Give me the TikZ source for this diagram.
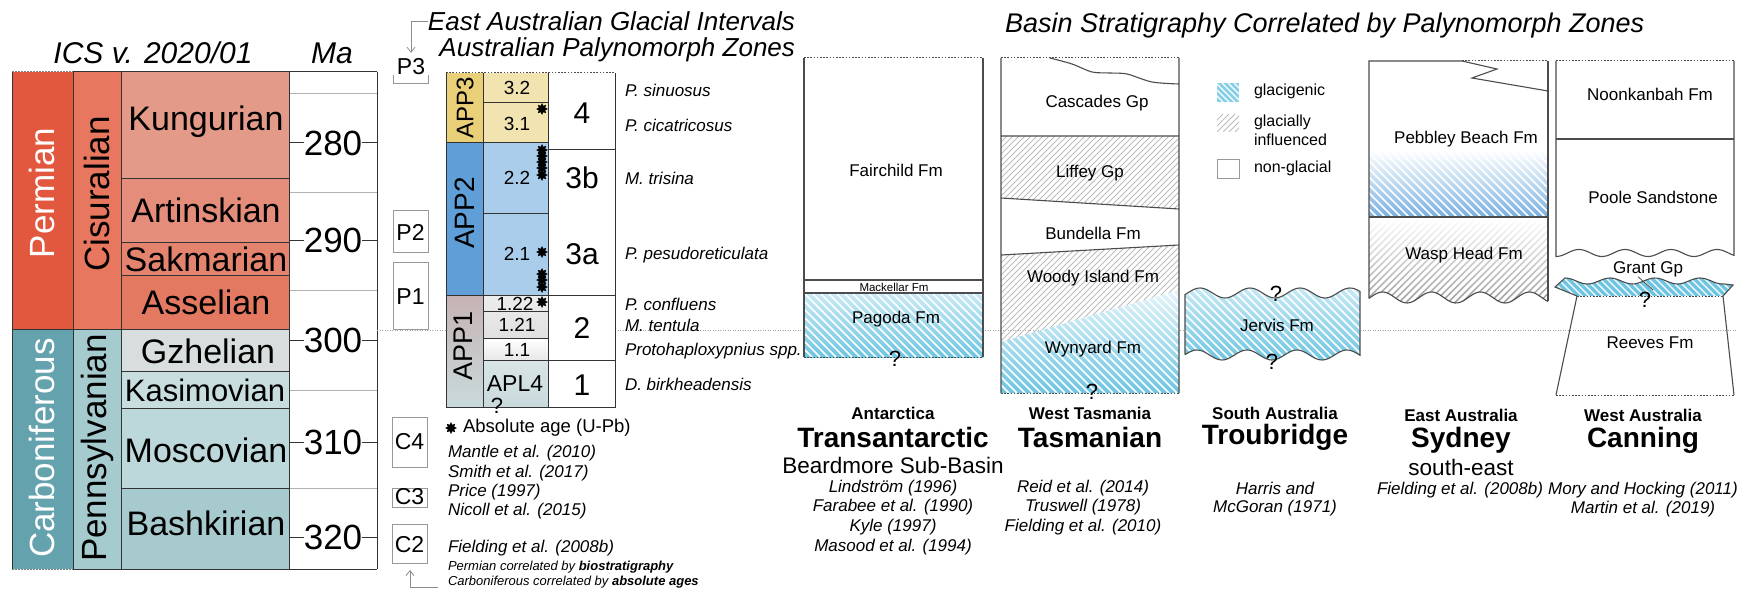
\documentclass[tikz,border=0pt]{standalone}
\usepackage{fontspec}
\setmainfont{Liberation Sans}
\usetikzlibrary{shapes.geometric,arrows.meta}
\newcommand\fsz[1]{\fontsize{#1}{#1}\selectfont}
\newcommand\dhatch[6]{%
  \pgfmathsetmacro\hA{#1-(#4-#2)}%
  \pgfmathsetmacro\hB{\hA+#5}%
  \foreach \k in {\hA,\hB,...,#3} {\draw[#6] (\k,#2) -- ({\k+#4-#2},#4);}%
}
\newcommand\uhatch[6]{%
  \pgfmathsetmacro\hA{#1-(#4-#2)}%
  \pgfmathsetmacro\hB{\hA+#5}%
  \foreach \k in {\hA,\hB,...,#3} {\draw[#6] (\k,#4) -- ({\k+#4-#2},#2);}%
}
\definecolor{permC}{HTML}{E2583E}
\definecolor{cisC}{HTML}{E8775F}
\definecolor{kunC}{HTML}{E49A89}
\definecolor{artC}{HTML}{E48D7A}
\definecolor{sakC}{HTML}{E4846F}
\definecolor{assC}{HTML}{E47962}
\definecolor{carbC}{HTML}{64A3AE}
\definecolor{pennC}{HTML}{A5CBCF}
\definecolor{gzhC}{HTML}{D8DEDE}
\definecolor{kasC}{HTML}{C7DDDE}
\definecolor{mosC}{HTML}{BDD8DA}
\definecolor{basC}{HTML}{A6CACE}
\definecolor{app3C}{HTML}{E9CF78}
\definecolor{sub3C}{HTML}{F2E4B0}
\definecolor{app2C}{HTML}{5F9ED6}
\definecolor{sub2C}{HTML}{A9CDEA}
\definecolor{app1T}{HTML}{C6B3B3}
\definecolor{app1B}{HTML}{C9DADC}
\definecolor{glacTop}{HTML}{C9EAF5}
\definecolor{glacBot}{HTML}{6EC5E2}
\definecolor{sydBlue}{HTML}{79B0E0}
\definecolor{hatchgray}{HTML}{BDBDBD}
\begin{document}
\begin{tikzpicture}[x=1pt,y=-1pt,
  txt/.style={inner sep=0pt,outer sep=0pt},
  icsline/.style={draw=black!80,line width=1},
  maline/.style={draw=black!30,line width=0.8},
  bline/.style={draw=black!70,line width=1.1},
  topdash/.style={draw=black!70,line width=1,dash pattern=on 1.6pt off 1.6pt},
  pbx/.style={draw=black!40,line width=0.8},
  garrow/.style={draw=black!45,line width=0.8,-{Straight Barb[length=5pt,width=8pt]}},
  astar/.style={star,star points=8,star point ratio=1.7,fill=black,inner sep=0pt,minimum size=12pt},
  stage/.style={txt,font=\fsz{34}},
  rot/.style={txt,rotate=90,font=\fsz{35}},
  manum/.style={txt,font=\fsz{35}},
  pl/.style={txt,font=\fsz{23}},
  sub/.style={txt,font=\fsz{19}},
  num/.style={txt,font=\fsz{30}},
  spec/.style={txt,anchor=west,font=\fsz{17}\itshape},
  fm/.style={txt,font=\fsz{17}},
  reg/.style={txt,font=\fsz{17}\bfseries},
  basin/.style={txt,font=\fsz{28}\bfseries},
  ref/.style={txt,font=\fsz{17}\itshape},
  qm/.style={txt,font=\fsz{22}},
  leg/.style={txt,anchor=west,font=\fsz{16}},
]
\useasboundingbox[fill=white] (0,0) rectangle (1751,591);

% ---------------- ICS chart ----------------
\node[txt,font=\fsz{30}\itshape] (ics) at (153,53) {ICS v. 2020/01};
\node[txt,font=\fsz{30}\itshape] (ma) at (332,53) {Ma};

\fill[permC] (12,72) rectangle (73,329);
\fill[carbC] (12,329) rectangle (73,569);
\fill[cisC] (73,72) rectangle (121,329);
\fill[pennC] (73,329) rectangle (121,569);
\fill[kunC] (121,72) rectangle (289,178);
\fill[artC] (121,178) rectangle (289,242);
\fill[sakC] (121,242) rectangle (289,275);
\fill[assC] (121,275) rectangle (289,329);
\fill[gzhC] (121,329) rectangle (289,371);
\fill[kasC] (121,371) rectangle (289,408);
\fill[mosC] (121,408) rectangle (289,488);
\fill[basC] (121,488) rectangle (289,569);

\foreach \yy in {93,192,290,390,488} {\draw[maline] (289,\yy) -- (377,\yy);}
\draw[icsline] (12,72) -- (12,569) (73,72) -- (73,569) (121,72) -- (121,569)
  (289,72) -- (289,569) (377,72) -- (377,569)
  (73,72) -- (377,72) (73,569) -- (377,569)
  (12,329) -- (289,329) (121,178) -- (289,178) (121,242) -- (289,242)
  (121,275) -- (289,275) (121,371) -- (289,371) (121,408) -- (289,408)
  (121,488) -- (289,488);
\draw[draw=black!50,line width=1,dash pattern=on 1.5pt off 1.5pt] (12,72) -- (73,72) (12,569) -- (73,569);

\node[rot,text=white] (tperm) at (42,193) {Permian};
\node[rot] (tcis) at (97,194) {Cisuralian};
\node[rot,text=white] (tcarb) at (42,448) {Carboniferous};
\node[rot] (tpenn) at (97,448) {Pennsylvanian};

\node[stage] (kun) at (206,122) {Kungurian};
\node[stage] (art) at (206,210) {Artinskian};
\node[stage] (sak) at (206,259) {Sakmarian};
\node[stage] (ass) at (206,302) {Asselian};
\node[stage] (gzh) at (208,351) {Gzhelian};
\node[stage,font=\fsz{31}] (kas) at (205,390) {Kasimovian};
\node[stage] (mos) at (206,450) {Moscovian};
\node[stage] (bas) at (206,523) {Bashkirian};

\foreach \v/\yy in {280/143,290/240,300/340,310/442,320/537} {
  \draw[icsline] (289,\yy) -- (304,\yy) (362,\yy) -- (377,\yy);
  \node[manum] (ma\v) at (333,\yy) {\v};
}

% boundary dotted line
\draw[draw=black!35,line width=0.8,dash pattern=on 1pt off 1.5pt] (377,330) -- (446,330);
\draw[draw=black!35,line width=0.8,dash pattern=on 1pt off 1.5pt] (615,330) -- (1737,330);

% ---------------- glacial intervals ----------------
\node[txt,anchor=base east,font=\fsz{26}\itshape] (eagi) at (795,31) {East Australian Glacial Intervals};
\node[txt,anchor=base east,font=\fsz{26}\itshape] (apz) at (795,57) {Australian Palynomorph Zones};
\node[pl] (p3) at (411,67) {P3};
\draw[pbx] (393,75) -- (393,83) -- (428,83) -- (428,75);
\draw[garrow,shorten >=6pt] (eagi.west) -| (p3.north);
\draw[pbx] (393,210) rectangle (428,252);
\node[pl] (p2) at (410.5,232) {P2};
\draw[pbx] (393,262) rectangle (428,329);
\node[pl] (p1) at (410.5,297) {P1};
\draw[pbx] (392,417) rectangle (427,467);
\node[pl] (c4) at (409.5,442) {C4};
\draw[pbx] (392,488) rectangle (427,507);
\node[pl] (c3) at (409.5,497) {C3};
\draw[pbx] (392,524) rectangle (427,563);
\node[pl] (c2) at (409.5,545) {C2};
\coordinate (c2b) at (410,563);
\coordinate (carbA) at (438,587);
\draw[garrow,shorten >=7pt] (carbA) -| (c2b);

% ---------------- palynomorph table ----------------
\fill[app3C] (446,73) rectangle (483,143);
\fill[app2C] (446,143) rectangle (483,295);
\shade[top color=app1T,bottom color=app1B] (446,295) rectangle (483,407);
\fill[sub3C] (483,73) rectangle (548,143);
\fill[sub2C] (483,143) rectangle (548,295);
\shade[top color=black!7,bottom color=black!12] (483,295) rectangle (548,338);
\shade[top color=white,bottom color=black!9] (483,338) rectangle (548,360);
\shade[top color=app1B!70!white,bottom color=app1B] (483,360) rectangle (548,407);
\draw[icsline] (446,73) -- (446,407) -- (615,407) -- (615,73)
  (483,73) -- (483,407) (548,73) -- (548,407)
  (446,143) -- (548,143) (446,295) -- (615,295) (483,103) -- (548,103)
  (483,213) -- (548,213) (483,311) -- (548,311) (483,338) -- (548,338)
  (483,360) -- (615,360) (548,150) -- (615,150);
\draw[topdash] (446,73) -- (615,73);

\node[txt,rotate=90,font=\fsz{24}] (app3) at (465,108) {APP3};
\node[txt,rotate=90,font=\fsz{28}] (app2) at (465,213) {APP2};
\node[txt,rotate=90,font=\fsz{27}] (app1) at (463,346) {APP1};
\node[sub] (z32) at (517,88) {3.2};
\node[sub] (z31) at (517,124) {3.1};
\node[sub] (z22) at (517,178) {2.2};
\node[sub] (z21) at (517,254) {2.1};
\node[sub] (z122) at (515,304) {1.22};
\node[sub] (z121) at (517,325) {1.21};
\node[sub] (z11) at (517,350) {1.1};
\node[txt,font=\fsz{23}] (apl4) at (515,384) {APL4};
\node[qm] (qapl) at (497,406) {?};
\node[num] (n4) at (582,113) {4};
\node[num] (n3b) at (582,178) {3b};
\node[num] (n3a) at (582,254) {3a};
\node[num] (n2) at (582,328) {2};
\node[num] (n1) at (582,385) {1};

\foreach \yy [count=\i] in {109,150,156,162,168,175,252,274,280,287,302} {
  \node[astar] (st\i) at (542,\yy) {};
}

\node[spec] (sp1) at (625,90) {P. sinuosus};
\node[spec] (sp2) at (625,125) {P. cicatricosus};
\node[spec] (sp3) at (625,178) {M. trisina};
\node[spec] (sp4) at (625,255) {P. pesudoreticulata};
\node[spec] (sp5) at (625,304) {P. confluens};
\node[spec] (sp6) at (625,325) {M. tentula};
\node[spec] (sp7) at (625,351) {Protohaploxypnius spp.};
\node[spec] (sp8) at (625,384) {D. birkheadensis};

\node[astar] (legstar) at (451,428) {};
\node[txt,anchor=west,font=\fsz{18.5}] (absage) at (463,428) {Absolute age (U-Pb)};
\node[ref,anchor=west] (r1) at (448,453) {Mantle et al. (2010)};
\node[ref,anchor=west] (r2) at (448,473) {Smith et al. (2017)};
\node[ref,anchor=west] (r3) at (448,492) {Price (1997)};
\node[ref,anchor=west] (r4) at (448,511) {Nicoll et al. (2015)};
\node[ref,anchor=west] (r5) at (448,548) {Fielding et al. (2008b)};
\node[txt,anchor=west,font=\fsz{13}\itshape] (permtxt) at (448,567) {Permian correlated by \textbf{biostratigraphy}};
\node[txt,anchor=west,font=\fsz{13}\itshape] (carbtxt) at (448,582) {Carboniferous correlated by \textbf{absolute ages}};

% ---------------- basins ----------------
\node[txt,anchor=base west,font=\fsz{27}\itshape] (bsc) at (1005,33) {Basin Stratigraphy Correlated by Palynomorph Zones};

% Transantarctic
\begin{scope}
\clip (804,293) rectangle (983,357);
\shade[top color=glacTop,bottom color=glacBot] (804,293) rectangle (983,357);
\dhatch{804}{293}{983}{357}{8}{white,line width=1.5}
\end{scope}
\draw[bline] (804,58) -- (804,357) (983,58) -- (983,357) (804,280) -- (983,280) (804,293) -- (983,293);
\draw[topdash] (804,58) -- (983,58);
\draw[topdash] (804,357) -- (983,357);
\node[fm] (fair) at (896,170) {Fairchild Fm};
\node[txt,font=\fsz{11.5}] (mack) at (894,287) {Mackellar Fm};
\node[fm] (pag) at (896,319) {Pagoda Fm};
\node[qm] (qpag) at (895,359) {?};

% Tasmanian
\begin{scope}
\clip (1001,136) -- (1179,136) -- (1179,209) -- (1001,198) -- cycle;
\uhatch{1001}{136}{1179}{209}{6}{hatchgray,line width=0.8}
\end{scope}
\begin{scope}
\clip (1001,255) -- (1179,245) -- (1179,290) -- (1001,342) -- cycle;
\uhatch{1001}{245}{1179}{342}{6}{hatchgray,line width=0.8}
\end{scope}
\begin{scope}
\clip (1001,342) -- (1179,290) -- (1179,393) -- (1001,393) -- cycle;
\shade[top color=glacTop!50!white,bottom color=glacBot] (1001,290) rectangle (1179,393);
\dhatch{1001}{290}{1179}{393}{8}{white,line width=1.5}
\end{scope}
\draw[bline] (1001,58) -- (1001,393) (1179,58) -- (1179,393) (1001,136) -- (1179,136)
  (1001,198) -- (1179,209) (1001,255) -- (1179,245);
\draw[bline] plot[smooth] coordinates {(1050,58) (1072,64) (1092,72) (1110,73) (1127,74) (1152,82) (1179,84)};
\draw[topdash] (1001,58) -- (1179,58);
\draw[topdash] (1001,393) -- (1179,393);
\node[fm] (casc) at (1097,103) {Cascades Gp};
\node[fm] (liff) at (1090,173) {Liffey Gp};
\node[fm] (bund) at (1093,233) {Bundella Fm};
\node[fm] (woody) at (1093,278) {Woody Island Fm};
\node[fm] (wyn) at (1093,349) {Wynyard Fm};
\node[qm] (qwyn) at (1092,392) {?};

% legend
\begin{scope}
\clip (1217,83) rectangle (1239,102);
\fill[glacBot!85!white] (1217,83) rectangle (1239,102);
\dhatch{1217}{83}{1239}{102}{6}{white,line width=1.3}
\end{scope}
\begin{scope}
\clip (1217,114) rectangle (1239,132);
\uhatch{1217}{114}{1239}{132}{6}{hatchgray,line width=0.8}
\end{scope}
\draw[pbx] (1217,159) rectangle (1239,178);
\node[leg] (lg1) at (1254,91) {glacigenic};
\node[leg] (lg2) at (1254,122) {glacially};
\node[leg] (lg3) at (1254,140) {influenced};
\node[leg] (lg4) at (1254,168) {non-glacial};

% Troubridge (Jervis)
\begin{scope}
\clip (1185,{293-5*cos(7.2*(1185-1200))}) -- plot[domain=1185:1360,samples=80] (\x,{293-5*cos(7.2*(\x-1200))})
  -- plot[domain=1360:1185,samples=80] (\x,{355+5*cos(7.2*(\x-1272))}) -- cycle;
\shade[top color=glacTop,bottom color=glacBot] (1185,285) rectangle (1360,362);
\dhatch{1185}{285}{1360}{362}{8}{white,line width=1.5}
\end{scope}
\draw[bline] (1185,{355+5*cos(7.2*(1185-1272))}) -- (1185,{293-5*cos(7.2*(1185-1200))})
  -- plot[domain=1185:1360,samples=80] (\x,{293-5*cos(7.2*(\x-1200))})
  -- plot[domain=1360:1185,samples=80] (\x,{355+5*cos(7.2*(\x-1272))});
\node[qm] (qj1) at (1276,294) {?};
\node[fm] (jerv) at (1277,325) {Jervis Fm};
\node[qm] (qj2) at (1272,362) {?};

% Sydney
\begin{scope}
\clip (1369,150) rectangle (1548,217);
\shade[top color=white,bottom color=sydBlue] (1369,150) rectangle (1548,217);
\dhatch{1369}{150}{1548}{217}{8}{white,line width=1.5}
\end{scope}
\begin{scope}
\clip (1369,217) -- (1548,217) -- plot[domain=1548:1369,samples=80] (\x,{297.5+5.5*cos(7.347*(\x-1407))}) -- cycle;
\shade[top color=white,bottom color=black!38] (1369,217) rectangle (1548,304);
\uhatch{1369}{217}{1548}{304}{7}{white,line width=3}
\end{scope}
\draw[bline] (1369,{297.5+5.5*cos(7.347*(1369-1407))}) -- (1369,61) -- (1462,61) -- (1497,69) -- (1472,78) -- (1548,91);
\draw[bline] (1548,61) -- (1548,{297.5+5.5*cos(7.347*(1548-1407))});
\draw[bline] plot[domain=1369:1548,samples=80] (\x,{297.5+5.5*cos(7.347*(\x-1407))});
\draw[bline] (1369,217) -- (1548,217);
\draw[topdash] (1462,61) -- (1548,61);
\node[fm] (pebb) at (1466,139) {Pebbley Beach Fm};
\node[fm] (wasp) at (1464,255) {Wasp Head Fm};

% Canning
\draw[bline] (1556,61) -- (1556,{253+3.5})
  -- plot[domain=1556:1734,samples=80] (\x,{253+3.5*cos(7.826*(\x-1556))})
  -- (1734,61);
\draw[bline] (1556,139) -- (1734,139);
\draw[topdash] (1556,61) -- (1734,61);
\node[fm] (noon) at (1650,94) {Noonkanbah Fm};
\node[fm] (poole) at (1653,197) {Poole Sandstone};
\begin{scope}
\clip (1577,296) -- (1555,287) -- (1565,278) -- plot[domain=1565:1724,samples=60] (\x,{281-3*cos(8*(\x-1565))}) -- (1733,285) -- (1723,296) -- cycle;
\fill[glacBot] (1555,276) rectangle (1734,297);
\dhatch{1555}{276}{1734}{297}{7}{white,line width=1.3}
\end{scope}
\draw[bline] (1577,296) -- (1555,287) -- (1565,278) -- plot[domain=1565:1724,samples=60] (\x,{281-3*cos(8*(\x-1565))}) -- (1733,285) -- (1723,296);
\draw[topdash] (1577,296) -- (1723,296);
\draw[bline] (1577,296) -- (1556,395) (1723,296) -- (1734,395);
\draw[topdash] (1556,395) -- (1734,395);
\node[fm] (grant) at (1648,269) {Grant Gp};
\coordinate (glens) at (1653,290);
\draw[draw=black!70,line width=0.8] ([xshift=-10pt]grant.south) -- (glens);
\node[qm] (qg) at (1645,300) {?};
\node[fm] (reev) at (1650,343) {Reeves Fm};

% basin labels
\node[reg] (antl) at (893,413) {Antarctica};
\node[basin] (trans) at (893,437) {Transantarctic};
\node[txt,font=\fsz{22.5}] (beard) at (893,465) {Beardmore Sub-Basin};
\node[ref] (ra1) at (893,488) {Lindström (1996)};
\node[ref] (ra2) at (893,507) {Farabee et al. (1990)};
\node[ref] (ra3) at (893,527) {Kyle (1997)};
\node[ref] (ra4) at (893,547) {Masood et al. (1994)};

\node[reg] (wtas) at (1090,413) {West Tasmania};
\node[basin] (tas) at (1090,437) {Tasmanian};
\node[ref] (rt1) at (1083,488) {Reid et al. (2014)};
\node[ref] (rt2) at (1083,507) {Truswell (1978)};
\node[ref] (rt3) at (1083,527) {Fielding et al. (2010)};

\node[reg] (saus) at (1275,413) {South Australia};
\node[basin] (trou) at (1275,437) {Troubridge};
\node[ref] (rs1) at (1275,488) {Harris and};
\node[ref] (rs2) at (1275,508) {McGoran (1971)};

\node[reg] (eaus) at (1461,415) {East Australia};
\node[basin] (syd) at (1461,440) {Sydney};
\node[txt,font=\fsz{22.5}] (se) at (1461,467) {south-east};
\node[ref] (re1) at (1460,490) {Fielding et al. (2008b)};

\node[reg] (waus) at (1643,415) {West Australia};
\node[basin] (can) at (1643,440) {Canning};
\node[ref] (rw1) at (1643,490) {Mory and Hocking (2011)};
\node[ref] (rw2) at (1643,509) {Martin et al. (2019)};
\end{tikzpicture}
\end{document}
